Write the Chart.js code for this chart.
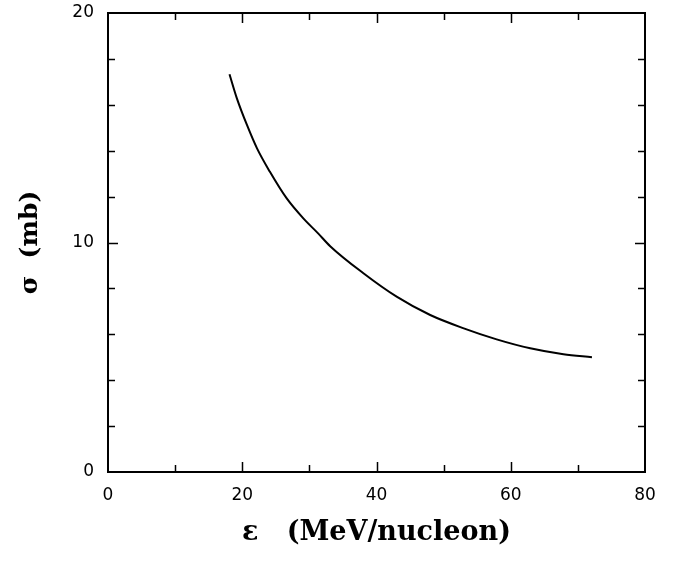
<!DOCTYPE html>
<html>
<head>
<meta charset="utf-8">
<script src="https://cdn.jsdelivr.net/npm/chart.js@4"></script>
<style>
  html, body { margin: 0; padding: 0; background: #fff; }
  #wrap { width: 681px; height: 561px; }
</style>
</head>
<body>
<div id="wrap"><canvas id="sigmaChart" width="681" height="561"></canvas></div>
<script>
// Cross section vs. energy per nucleon
const energy = [18.1, 19.2, 20.7, 22.2, 24.1, 26.6, 29.1, 31.3, 33.1, 38.05, 43.0, 48.0, 53.0, 57.9, 62.9, 67.85, 72.1];
const sigma  = [17.33, 16.28, 15.12, 14.10, 13.09, 11.93, 11.05, 10.40, 9.84, 8.66, 7.64, 6.84, 6.26, 5.78, 5.39, 5.13, 5.0];

const xTicks = [0, 20, 40, 60, 80];
const yTicks = [0, 10, 20];

const points = energy.map((e, i) => ({ x: e, y: sigma[i] }));

// Frame round the plot plus inward ticks on all four sides
const frameTicks = {
  id: 'frameTicks',
  afterDatasetsDraw(chart) {
    const { ctx, chartArea: a, scales: { x, y } } = chart;
    ctx.save();
    ctx.strokeStyle = '#000';
    ctx.lineWidth = 2;
    ctx.strokeRect(a.left, a.top, a.right - a.left, a.bottom - a.top);

    ctx.lineWidth = 1.5;
    ctx.beginPath();
    for (let v = 10; v < 80; v += 10) {
      const px = Math.round(x.getPixelForValue(v)) + 0.5;
      const len = v % 20 === 0 ? 10 : 7;
      ctx.moveTo(px, a.bottom); ctx.lineTo(px, a.bottom - len);
      ctx.moveTo(px, a.top); ctx.lineTo(px, a.top + len);
    }
    for (let v = 2; v < 20; v += 2) {
      const py = Math.round(y.getPixelForValue(v)) + 0.5;
      const len = v % 10 === 0 ? 10 : 7;
      ctx.moveTo(a.left, py); ctx.lineTo(a.left + len, py);
      ctx.moveTo(a.right, py); ctx.lineTo(a.right - len, py);
    }
    ctx.stroke();
    ctx.restore();
  }
};

const tickFont = { family: '"DejaVu Sans", sans-serif', size: 17 };
const xTitleFont = { family: '"DejaVu Serif", serif', size: 27, weight: 'bold' };
const yTitleFont = { family: '"DejaVu Serif", serif', size: 25, weight: 'bold' };

new Chart(document.getElementById('sigmaChart').getContext('2d'), {
  type: 'scatter',
  data: {
    datasets: [{
      data: points,
      showLine: true,
      borderColor: '#000',
      borderWidth: 2,
      pointRadius: 0,
      cubicInterpolationMode: 'monotone',
      fill: false
    }]
  },
  options: {
    responsive: false,
    animation: false,
    events: [],
    layout: { padding: { left: 0, right: 36, top: 13, bottom: 0 } },
    plugins: { legend: { display: false }, tooltip: { enabled: false } },
    scales: {
      x: {
        type: 'linear',
        min: 0,
        max: 80,
        afterBuildTicks: s => { s.ticks = xTicks.map(v => ({ value: v })); },
        afterFit: s => { s.height = 89; s.paddingLeft = 0; s.paddingRight = 0; },
        grid: { display: false, drawTicks: false },
        border: { display: false },
        ticks: { color: '#000', font: tickFont, padding: 13, maxRotation: 0 },
        title: {
          display: true,
          text: 'ε   (MeV/nucleon)',
          color: '#000',
          font: xTitleFont,
          padding: { top: 0, bottom: 12 }
        }
      },
      y: {
        type: 'linear',
        min: 0,
        max: 20,
        afterBuildTicks: s => { s.ticks = yTicks.map(v => ({ value: v })); },
        afterFit: s => { s.width = 108; s.paddingTop = 0; s.paddingBottom = 0; },
        grid: { display: false, drawTicks: false },
        border: { display: false },
        ticks: { color: '#000', font: tickFont, padding: 14 },
        title: {
          display: true,
          text: 'σ  (mb)',
          color: '#000',
          font: yTitleFont,
          padding: { top: 15, bottom: 0 }
        }
      }
    }
  },
  plugins: [frameTicks]
});
</script>
</body>
</html>
